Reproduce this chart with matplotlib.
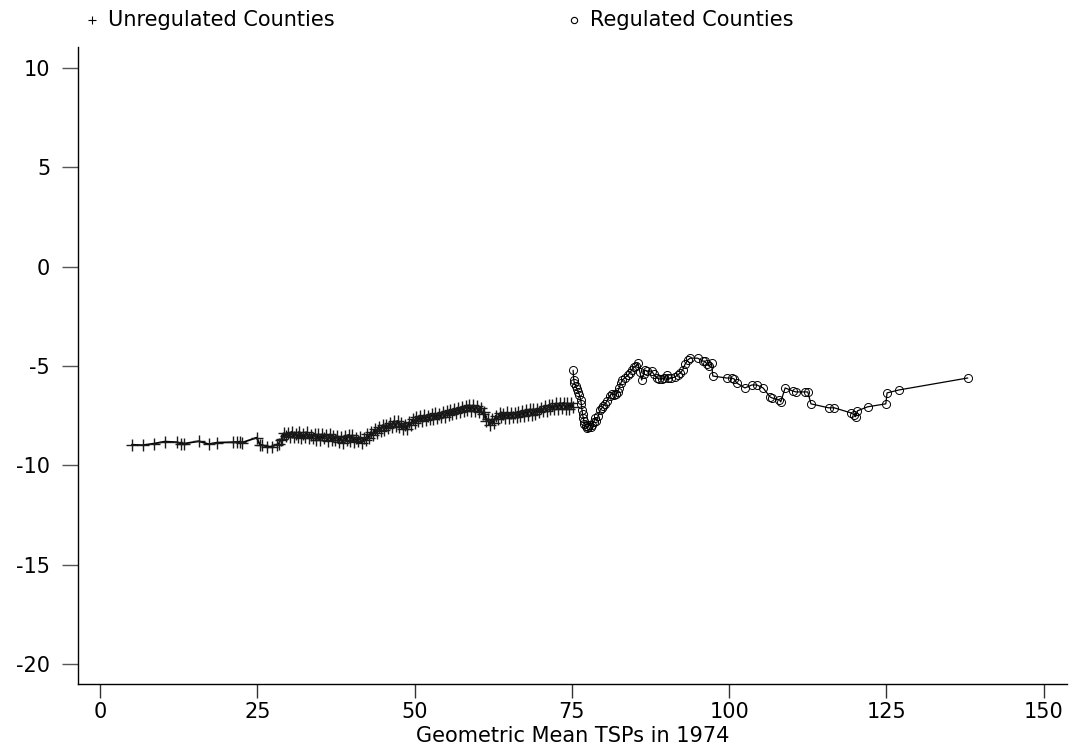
import matplotlib
matplotlib.use("Agg")
from matplotlib import pyplot as plt
from matplotlib.lines import Line2D

plt.rcParams['font.family'] = ['DejaVu Sans']
plt.rcParams['axes.unicode_minus'] = False

# unregulated counties (smoothed values)
unreg_x = [5.1, 6.8, 8.6, 10.3, 12.2, 12.9, 13.4, 15.7, 17.3, 18.6, 21.2, 21.7, 22.3, 22.6,
           24.9, 25.4, 25.8, 26.5, 27.3, 28.1,
           28.4, 28.7, 29.0, 29.3, 29.6, 29.9, 30.2, 30.5, 30.8, 31.1, 31.4, 31.7, 32.0, 32.3,
           32.6, 32.9, 33.2, 33.5, 33.8, 34.1, 34.4, 34.7, 35.0, 35.3, 35.6, 35.9, 36.2, 36.5,
           36.8, 37.1, 37.4, 37.7, 38.0, 38.3, 38.6, 38.9, 39.2, 39.5, 39.8, 40.1, 40.4, 40.7,
           41.0, 41.3, 41.6, 41.9, 42.2, 42.5, 42.8, 43.1, 43.4, 43.7, 44.0, 44.3, 44.6, 44.9,
           45.2, 45.5, 45.8, 46.1, 46.4, 46.7, 47.0, 47.3, 47.6, 47.9, 48.2, 48.5, 48.8, 49.1,
           49.4, 49.7, 50.0, 50.3, 50.6, 50.9, 51.2, 51.5, 51.8, 52.1, 52.4, 52.7, 53.0, 53.3,
           53.6, 53.9, 54.2, 54.5, 54.8, 55.1, 55.4, 55.7, 56.0, 56.3, 56.6, 56.9, 57.2, 57.5,
           57.8, 58.1, 58.4, 58.7, 59.0, 59.3, 59.6, 59.9, 60.2, 60.5, 60.8, 61.1, 61.4, 61.7,
           62.0, 62.3, 62.6, 62.9, 63.2, 63.5, 63.8, 64.1, 64.4, 64.7, 65.0, 65.3, 65.6, 65.9,
           66.2, 66.5, 66.8, 67.1, 67.4, 67.7, 68.0, 68.3, 68.6, 68.9, 69.2, 69.5, 69.8, 70.1,
           70.4, 70.7, 71.0, 71.3, 71.6, 71.9, 72.2, 72.5, 72.8, 73.1, 73.4, 73.7, 74.0, 74.3,
           74.6, 74.9, 75.2]
unreg_y = [-8.96, -8.98, -8.9, -8.8, -8.83, -8.9, -8.9, -8.78, -8.93, -8.85, -8.83, -8.82, -8.8, -8.85,
           -8.6, -8.95, -8.98, -9.05, -9.05, -8.95,
           -8.92, -8.70, -8.66, -8.36, -8.54, -8.38, -8.56, -8.30, -8.58, -8.40, -8.57, -8.30, -8.62, -8.44,
           -8.59, -8.32, -8.62, -8.45, -8.60, -8.40, -8.72, -8.44, -8.74, -8.44, -8.62, -8.46, -8.76, -8.44,
           -8.72, -8.54, -8.70, -8.50, -8.80, -8.58, -8.86, -8.54, -8.72, -8.46, -8.75, -8.48, -8.80, -8.60,
           -8.78, -8.58, -8.88, -8.62, -8.74, -8.44, -8.62, -8.30, -8.48, -8.18, -8.36, -8.06, -8.27, -7.98,
           -8.20, -7.94, -8.14, -7.86, -8.07, -7.78, -8.04, -7.76, -8.07, -7.88, -8.16, -7.94, -8.17, -7.83,
           -7.98, -7.68, -7.86, -7.58, -7.78, -7.50, -7.77, -7.48, -7.70, -7.50, -7.67, -7.40, -7.68, -7.38,
           -7.59, -7.40, -7.58, -7.30, -7.57, -7.28, -7.48, -7.21, -7.42, -7.16, -7.37, -7.10, -7.32, -7.06,
           -7.27, -7.00, -7.22, -6.96, -7.24, -6.98, -7.27, -7.00, -7.30, -7.10, -7.42, -7.33, -7.74, -7.66,
           -7.98, -7.68, -7.84, -7.50, -7.67, -7.38, -7.58, -7.40, -7.60, -7.33, -7.62, -7.35, -7.56, -7.36,
           -7.54, -7.33, -7.52, -7.24, -7.52, -7.23, -7.44, -7.18, -7.46, -7.16, -7.42, -7.14, -7.32, -7.10,
           -7.28, -7.00, -7.26, -6.96, -7.17, -6.98, -7.15, -6.88, -7.16, -6.86, -7.12, -6.84, -7.14, -6.86,
           -7.16, -6.88, -7.05]

# regulated counties
reg_x = [75.2, 75.3, 75.4, 75.6, 75.8, 76.0, 76.2, 76.4, 76.5, 76.6, 76.7, 76.8, 76.9, 77.0,
         77.2, 77.4, 77.6, 77.8, 78.0, 78.2, 78.5, 78.7, 78.9, 79.2, 79.5, 79.8, 80.0, 80.3,
         80.6, 81.0, 81.3, 81.7, 82.0, 82.3, 82.5, 82.8, 83.0, 83.4, 83.9, 84.2, 84.5, 84.9,
         85.2, 85.5, 85.8, 86.1, 86.4, 86.6, 87.0, 87.7, 88.0, 88.5, 88.9, 89.3, 89.7, 90.1,
         90.3, 90.8, 91.4, 91.8, 92.2, 92.6, 93.0, 93.4, 93.8, 95.0, 95.8, 96.1, 96.5, 96.8,
         97.2, 97.4, 99.6, 100.4, 100.8, 101.2, 102.5, 103.6, 104.4, 105.4, 106.5, 106.8, 108.0,
         108.2, 108.9, 110.1, 110.6, 112.0, 112.5, 113.0, 115.8, 116.7, 119.3, 119.9, 120.1,
         120.4, 122.0, 124.9, 125.1, 127.0, 137.9]
reg_y = [-5.22, -5.7, -5.85, -6.0, -6.15, -6.3, -6.45, -6.7, -6.9, -7.2, -7.4, -7.6, -7.75, -7.9,
         -8.0, -8.1, -8.05, -7.95, -8.05, -7.95, -7.8, -7.6, -7.75, -7.5, -7.2, -7.1, -7.0, -6.9,
         -6.75, -6.5, -6.4, -6.45, -6.4, -6.3, -6.1, -5.85, -5.7, -5.6, -5.45, -5.35, -5.2, -5.05,
         -5.0, -4.85, -5.3, -5.7, -5.4, -5.2, -5.25, -5.25, -5.4, -5.6, -5.65, -5.65, -5.6, -5.45,
         -5.6, -5.6, -5.55, -5.45, -5.35, -5.2, -4.9, -4.7, -4.6, -4.6, -4.75, -4.75, -4.9, -5.0,
         -4.85, -5.5, -5.6, -5.6, -5.65, -5.85, -6.1, -5.95, -5.95, -6.1, -6.55, -6.6, -6.7,
         -6.8, -6.1, -6.25, -6.3, -6.3, -6.3, -6.9, -7.1, -7.1, -7.35, -7.45, -7.55,
         -7.25, -7.05, -6.9, -6.35, -6.2, -5.6]

x_ticks = [0, 25, 50, 75, 100, 125, 150]
y_ticks = [10, 5, 0, -5, -10, -15, -20]

W, H = 1073, 746
fig = plt.figure(figsize=(W / 100, H / 100), dpi=100)
ax = fig.add_axes([78 / W, 62 / H, (1067 - 78) / W, (699 - 62) / H])

ax.plot(unreg_x, unreg_y, color='black', lw=1.3, marker='+', ms=8.5, mew=1.0, mec='#1a1a1a')
ax.plot(reg_x, reg_y, color='black', lw=0.9, marker='o', ms=5.8, mfc='none', mew=0.7, mec='black')

ax.set_xlim(-3.5, 153.7)
ax.set_ylim(-21.0, 11.06)
ax.set_xticks(x_ticks)
ax.set_yticks(y_ticks)
ax.spines['top'].set_visible(False)
ax.spines['right'].set_visible(False)
ax.spines['left'].set_linewidth(1.0)
ax.spines['bottom'].set_linewidth(1.0)
ax.tick_params(axis='y', length=11.5, width=1, color='#555555', pad=8.5, labelsize=15)
ax.tick_params(axis='x', length=10, width=1, color='#333333', pad=3, labelsize=15)
ax.set_xlabel('Geometric Mean TSPs in 1974', fontsize=15, labelpad=3)

# legend along the top
ly = 1 - 20 / H
fig.add_artist(Line2D([92 / W], [ly], marker='+', ms=6, mew=0.8, color='black', lw=0,
                      transform=fig.transFigure))
fig.text(108 / W, ly, 'Unregulated Counties', va='center', fontsize=15)
fig.add_artist(Line2D([574 / W], [ly], marker='o', ms=4.5, mew=0.8, mfc='none', mec='black', lw=0,
                      transform=fig.transFigure))
fig.text(590 / W, ly, 'Regulated Counties', va='center', fontsize=15)

fig.savefig('out.png', dpi=100)
